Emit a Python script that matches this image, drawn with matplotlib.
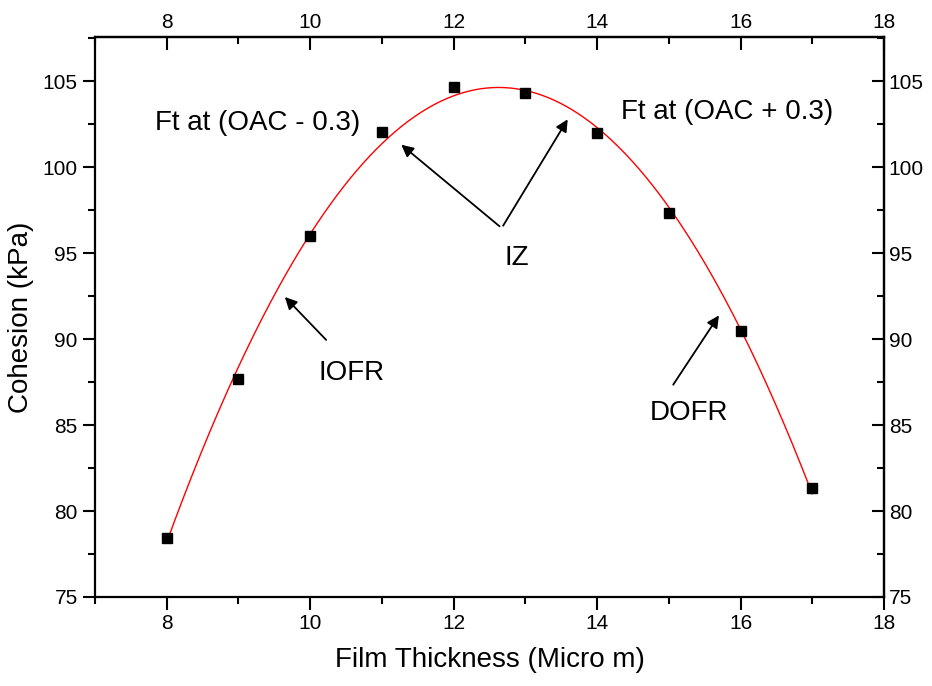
import numpy as np
import matplotlib
matplotlib.use("Agg")
import matplotlib.pyplot as plt

plt.rcParams['font.family'] = ['Liberation Sans', 'DejaVu Sans']

thickness = [8, 9, 10, 11, 12, 13, 14, 15, 16, 17]
cohesion = [78.45, 87.65, 96.0, 102.05, 104.65, 104.3, 101.95, 97.3, 90.45, 81.35]

x_ticks = [8, 10, 12, 14, 16, 18]
y_ticks = [75, 80, 85, 90, 95, 100, 105]

fig = plt.figure(figsize=(9.32, 6.86), dpi=100)
ax = fig.add_axes([95/932, 89/686, 789/932, 560/686])

coef = np.polyfit(thickness, cohesion, 2)
xf = np.linspace(min(thickness), max(thickness), 300)
ax.plot(xf, np.polyval(coef, xf), color='red', lw=1.0, zorder=2)
ax.plot(thickness, cohesion, 's', color='black', ms=7, zorder=3)

ax.set_xlim(7, 18)
ax.set_ylim(75, 107.56)
ax.set_xticks(x_ticks)
ax.set_yticks(y_ticks)
ax.set_xticks(np.arange(7, 18.01, 1), minor=True)
ax.set_yticks(np.arange(75, 107.6, 2.5), minor=True)

for s in ax.spines.values():
    s.set_linewidth(1.6)

ax.tick_params(which='both', width=1.5, labelsize=15)
ax.tick_params(which='major', length=9)
ax.tick_params(which='minor', length=5)
ax.tick_params(axis='x', which='both', direction='out', top=False)
ax.tick_params(axis='y', which='both', direction='out', right=False)

axt = ax.secondary_xaxis('top')
axt.set_xticks(x_ticks)
axt.set_xticks(np.arange(7, 18.01, 1), minor=True)
axt.tick_params(which='both', direction='in', width=1.5, labelsize=15)
axt.tick_params(which='major', length=9)
axt.tick_params(which='minor', length=5)
axr = ax.secondary_yaxis('right')
axr.set_yticks(y_ticks)
axr.set_yticks(np.arange(75, 107.6, 2.5), minor=True)
axr.tick_params(which='both', direction='in', width=1.5, labelsize=15)
axr.tick_params(which='major', length=9)
axr.tick_params(which='minor', length=5)
for a in (axt, axr):
    for s in a.spines.values():
        s.set_linewidth(1.6)

ax.set_xlabel('Film Thickness (Micro m)', fontsize=20, labelpad=10)
ax.set_ylabel('Cohesion (kPa)', fontsize=20, labelpad=6)

afs = 20
arrow = dict(arrowstyle='-|>', color='black', lw=1.3, mutation_scale=18)
ax.text(9.27, 102.56, 'Ft at (OAC - 0.3)', fontsize=afs, ha='center', va='center')
ax.text(15.81, 103.20, 'Ft at (OAC + 0.3)', fontsize=afs, ha='center', va='center')
ax.text(12.88, 94.71, 'IZ', fontsize=afs, ha='center', va='center')
ax.text(10.58, 88.02, 'IOFR', fontsize=afs, ha='center', va='center')
ax.text(15.28, 85.70, 'DOFR', fontsize=afs, ha='center', va='center')
ax.annotate('', xy=(11.24, 101.40), xytext=(12.67, 96.45), arrowprops=arrow)
ax.annotate('', xy=(13.61, 102.91), xytext=(12.67, 96.45), arrowprops=arrow)
ax.annotate('', xy=(9.62, 92.56), xytext=(10.25, 89.83), arrowprops=arrow)
ax.annotate('', xy=(15.72, 91.51), xytext=(15.04, 87.21), arrowprops=arrow)

fig.savefig('out.png', dpi=100)
